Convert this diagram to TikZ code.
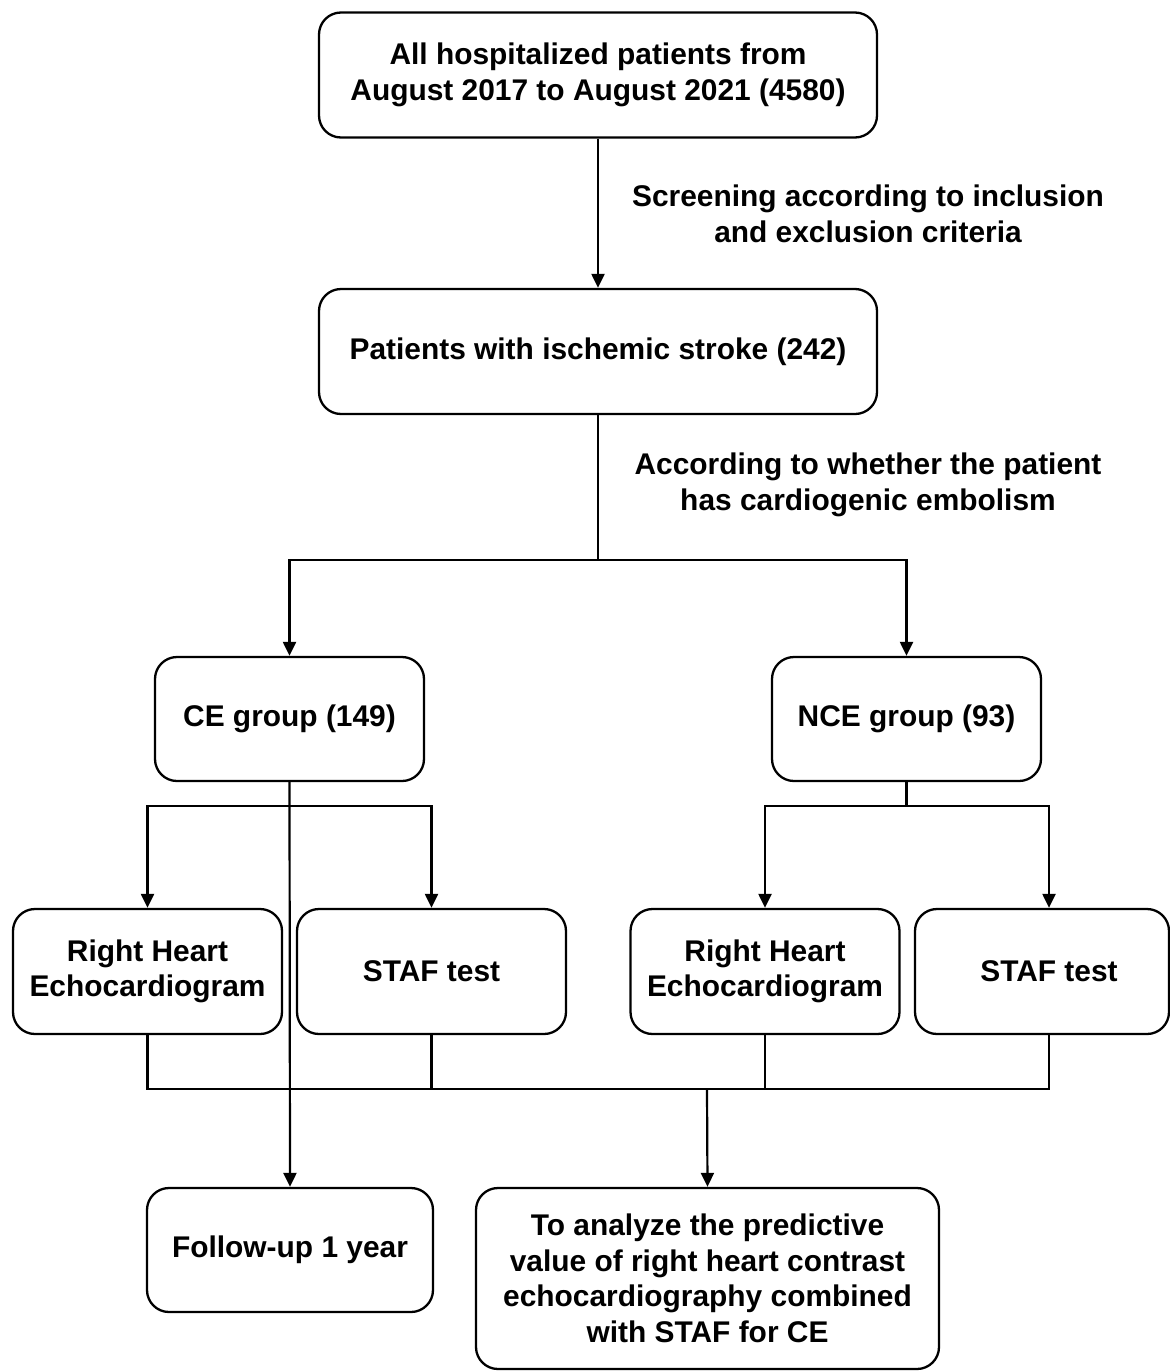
\documentclass[tikz,border=0pt]{standalone}
\usepackage{fontspec}
\setmainfont{Liberation Sans}
\usetikzlibrary{arrows.meta}
\begin{document}
\begin{tikzpicture}[x=1pt,y=-1pt,
  box/.style={draw,line width=2.3pt,rounded corners=22pt,align=center,inner sep=0pt,
    font=\fontsize{29.9}{35.5}\selectfont\bfseries},
  lbl/.style={align=center,font=\fontsize{29.9}{35.5}\selectfont\bfseries},
  conn/.style={line width=2.2pt},
  arr/.style={line width=2.2pt,-{Triangle[length=14pt,width=13pt]}}]
\useasboundingbox (0,0) rectangle (1170,1371);
\node[box,minimum width=558pt,minimum height=125pt] (b1) at (598,75) {All hospitalized patients from\\August 2017 to August 2021 (4580)};
\node[box,minimum width=558pt,minimum height=125pt] (b2) at (598,351.5) {Patients with ischemic stroke (242)};
\node[box,minimum width=269pt,minimum height=124pt] (ce) at (289.5,719) {CE group (149)};
\node[box,minimum width=269pt,minimum height=124pt] (nce) at (906.5,719) {NCE group (93)};
\node[box,minimum width=269pt,minimum height=125pt] (rhe1) at (147.5,971.5) {Right Heart\\Echocardiogram};
\node[box,minimum width=269pt,minimum height=125pt] (staf1) at (431.5,971.5) {STAF test};
\node[box,minimum width=269pt,minimum height=125pt] (rhe2) at (765,971.5) {Right Heart\\Echocardiogram};
\node[box,minimum width=254pt,minimum height=125pt] (staf2) at (1042,971.5) {\hspace*{14pt}STAF test};
\node[box,minimum width=286pt,minimum height=124pt] (fu) at (290,1250) {Follow-up 1 year};
\node[box,minimum width=463pt,minimum height=181pt] (fin) at (707.5,1278.5) {To analyze the predictive\\value of right heart contrast\\echocardiography combined\\with STAF for CE};
\node[lbl] (l1) at (868,214) {Screening according to inclusion\\and exclusion criteria};
\node[lbl] (l2) at (868,485) {According to whether the patient\\has cardiogenic embolism};
\coordinate (s1) at (598,560);
\coordinate (s2) at (290,806);
\coordinate (s3) at (906.5,806);
\coordinate (m) at (707,1089);
\coordinate (staf2c) at (1049,971.5);
\draw[arr] (b1.south) -- (b2.north);
\draw[conn] (b2.south) -- (s1);
\draw[arr] (s1) -| (ce.north);
\draw[arr] (s1) -| (nce.north);
\draw[arr] (s2) -| (rhe1.north);
\draw[arr] (s2) -| (staf1.north);
\draw[arr] (ce.south) -- (fu.north);
\draw[conn] (nce.south) -- (s3);
\draw[arr] (s3) -| (rhe2.north);
\draw[arr] (s3) -| (staf2c |- staf2.north);
\draw[conn] (rhe1.south) -- (rhe1.south |- m) -- (staf2c |- m) -- (staf2c |- staf2.south);
\draw[conn] (staf1.south) -- (staf1.south |- m);
\draw[conn] (rhe2.south) -- (rhe2.south |- m);
\draw[arr] (m) -- (fin.north);
\end{tikzpicture}
\end{document}
